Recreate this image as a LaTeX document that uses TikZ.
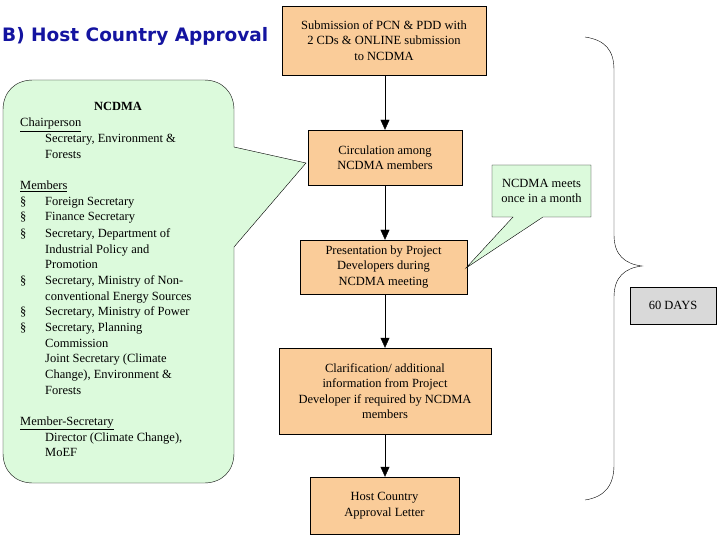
\documentclass[tikz,border=0pt]{standalone}
\usepackage{fontspec}
\setmainfont{Liberation Serif}
\newfontfamily\ttl{DejaVu Sans}
\usetikzlibrary{arrows.meta}
\definecolor{boxor}{RGB}{250,204,153}
\definecolor{cgreen}{RGB}{220,250,220}
\definecolor{ttlblue}{RGB}{20,20,160}
\begin{document}
\begin{tikzpicture}[x=1pt,y=-1pt,
  box/.style={draw,fill=boxor,align=center,font=\fontsize{12.5}{15.5}\selectfont,inner sep=0pt},
  ln/.style={anchor=base west,inner sep=0pt,font=\fontsize{12.5}{14}\selectfont},
  arr/.style={-{Triangle[width=9pt,length=10pt]}}]
\useasboundingbox (0,0) rectangle (720,540);
\node[anchor=west,font=\ttl\bfseries\fontsize{18.5}{20}\selectfont,text=ttlblue,inner sep=0pt] (title) at (2,36) {B) Host Country Approval};
% left callout
\draw[fill=cgreen] (33,80) -- (204,80) .. controls (222,80) and (234,92) .. (234,110) -- (234,147) -- (306,163) -- (234,247) -- (234,453) .. controls (234,471) and (222,483) .. (204,483) -- (33,483) .. controls (15,483) and (3,471) .. (3,453) -- (3,110) .. controls (3,92) and (15,80) .. (33,80) -- cycle;
\node[ln,font=\bfseries\fontsize{12.5}{14}\selectfont,anchor=base] (t0) at (118,111) {NCDMA};
\node[ln] (t1) at (20,127) {\underline{Chairperson}};
\node[ln] (t2) at (45,143) {Secretary, Environment \&};
\node[ln] (t3) at (45,159) {Forests};
\node[ln] (t4) at (20,190) {\underline{Members}};
\node[ln] (b1) at (20,206) {\S}; \node[ln] (t5) at (45,206) {Foreign Secretary};
\node[ln] (b2) at (20,221) {\S}; \node[ln] (t6) at (45,221) {Finance Secretary};
\node[ln] (b3) at (20,237) {\S}; \node[ln] (t7) at (45,237) {Secretary, Department of};
\node[ln] (t8) at (45,253) {Industrial Policy and};
\node[ln] (t9) at (45,268) {Promotion};
\node[ln] (b4) at (20,284) {\S}; \node[ln] (t10) at (45,284) {Secretary, Ministry of Non-};
\node[ln] (t11) at (45,300) {conventional Energy Sources};
\node[ln] (b5) at (20,315) {\S}; \node[ln] (t12) at (45,315) {Secretary, Ministry of Power};
\node[ln] (b6) at (20,331) {\S}; \node[ln] (t13) at (45,331) {Secretary, Planning};
\node[ln] (t14) at (45,347) {Commission};
\node[ln] (t15) at (45,362) {Joint Secretary (Climate};
\node[ln] (t16) at (45,378) {Change), Environment \&};
\node[ln] (t17) at (45,394) {Forests};
\node[ln] (t18) at (20,425) {\underline{Member-Secretary}};
\node[ln] (t19) at (45,441) {Director (Climate Change),};
\node[ln] (t20) at (45,456) {MoEF};
% flow boxes
\node[box,minimum width=204pt,minimum height=69pt] (s1) at (384,40.5) {Submission of PCN \& PDD with\\2 CDs \& ONLINE submission\\to NCDMA};
\node[box,minimum width=154pt,minimum height=55pt] (s2) at (385,157.5) {Circulation among\\NCDMA members};
\node[box,minimum width=167pt,minimum height=54pt] (s3) at (383.5,267) {Presentation by Project\\Developers during\\NCDMA meeting};
\node[box,minimum width=212pt,minimum height=86pt] (s4) at (385,391) {Clarification/ additional\\information from Project\\Developer if required by NCDMA\\members};
\node[box,minimum width=149pt,minimum height=57pt] (s5) at (384.5,505.5) {Host Country\\Approval Letter};
\draw[arr] (s1.south -| s2.north) -- (s2.north);
\draw[arr] (s2) -- (s2 |- s3.north);
\draw[arr] (s3.south -| s2.north) -- (s2 |- s4.north);
\draw[arr] (s4.south -| s2.north) -- (s2 |- s5.north);
% small callout
\draw[fill=cgreen] (492,165) -- (591,165) -- (591,217) -- (543,217) -- (466,268) -- (513,217) -- (492,217) -- cycle;
\node[align=center,font=\fontsize{12.5}{15}\selectfont,inner sep=0pt] (c2) at (541.5,191) {NCDMA meets\\once in a month};
% brace
\draw (585,37) .. controls (605,40) and (614,50) .. (614,70) -- (614,235) .. controls (614,255) and (625,264) .. (642,266) .. controls (625,268) and (614,277) .. (614,297) -- (614,465) .. controls (614,485) and (605,497) .. (585,500);
\node[draw,fill=black!15,minimum width=86pt,minimum height=37pt,font=\fontsize{12.5}{14}\selectfont,inner sep=0pt] (days) at (673,305.5) {60 DAYS};
\end{tikzpicture}
\end{document}
